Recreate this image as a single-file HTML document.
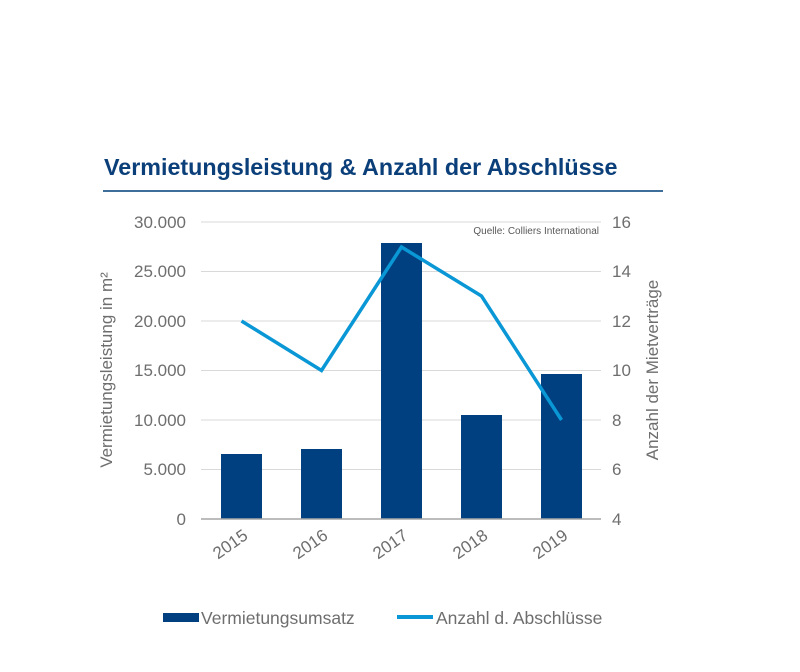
<!DOCTYPE html>
<html><head><meta charset="utf-8"><style>
body{margin:0;background:#fff;}
</style></head><body>
<svg width="800" height="667" xmlns="http://www.w3.org/2000/svg" font-family="Liberation Sans, Arial, sans-serif">
<rect width="800" height="667" fill="#fff"/>
<text x="104" y="175" font-size="23.3" font-weight="bold" fill="#0b3f7a">Vermietungsleistung &amp; Anzahl der Abschlüsse</text>
<rect x="103" y="190" width="560" height="2" fill="#3f6e9a"/>
<g stroke="#d9d9d9" stroke-width="1">
<line x1="201" x2="601" y1="222" y2="222"/><line x1="201" x2="601" y1="271.5" y2="271.5"/>
<line x1="201" x2="601" y1="321" y2="321"/><line x1="201" x2="601" y1="370.5" y2="370.5"/>
<line x1="201" x2="601" y1="420" y2="420"/><line x1="201" x2="601" y1="469.5" y2="469.5"/>
</g>
<text x="599" y="234" font-size="10" fill="#595959" text-anchor="end">Quelle: Colliers International</text>
<g fill="#004080">
<rect x="221" y="454" width="41" height="65"/><rect x="301" y="449" width="41" height="70"/>
<rect x="381" y="243" width="41" height="276"/><rect x="461" y="415" width="41" height="104"/>
<rect x="541" y="374" width="41" height="145"/>
</g>
<line x1="201" x2="601" y1="519" y2="519" stroke="#a6a6a6" stroke-width="1.5"/>
<polyline points="241.5,321 321.5,370.5 401.5,247 481.5,296 561.5,420" fill="none" stroke="#0a97d6" stroke-width="3.5"/>
<g font-size="17" fill="#6e6e6e" text-anchor="end">
<text x="186" y="228">30.000</text><text x="186" y="277">25.000</text><text x="186" y="327">20.000</text>
<text x="186" y="376">15.000</text><text x="186" y="426">10.000</text><text x="186" y="475">5.000</text><text x="186" y="525">0</text>
</g>
<g font-size="17" fill="#6e6e6e">
<text x="612" y="228">16</text><text x="612" y="277">14</text><text x="612" y="327">12</text>
<text x="612" y="376">10</text><text x="612" y="426">8</text><text x="612" y="475">6</text><text x="612" y="525">4</text>
</g>
<text transform="translate(112,370) rotate(-90)" font-size="17" fill="#6e6e6e" text-anchor="middle">Vermietungsleistung in m²</text>
<text transform="translate(658,370) rotate(-90)" font-size="17" fill="#6e6e6e" text-anchor="middle">Anzahl der Mietverträge</text>
<g font-size="17" fill="#6e6e6e" text-anchor="end">
<text transform="translate(249,538) rotate(-35)">2015</text>
<text transform="translate(329,538) rotate(-35)">2016</text>
<text transform="translate(409,538) rotate(-35)">2017</text>
<text transform="translate(489,538) rotate(-35)">2018</text>
<text transform="translate(569,538) rotate(-35)">2019</text>
</g>
<rect x="163" y="613" width="36" height="9" fill="#004080"/>
<text x="201" y="624" font-size="17.5" fill="#6e6e6e">Vermietungsumsatz</text>
<rect x="397" y="615" width="36" height="4" fill="#0a97d6"/>
<text x="436" y="624" font-size="17.5" fill="#6e6e6e">Anzahl d. Abschlüsse</text>
</svg>
</body></html>
